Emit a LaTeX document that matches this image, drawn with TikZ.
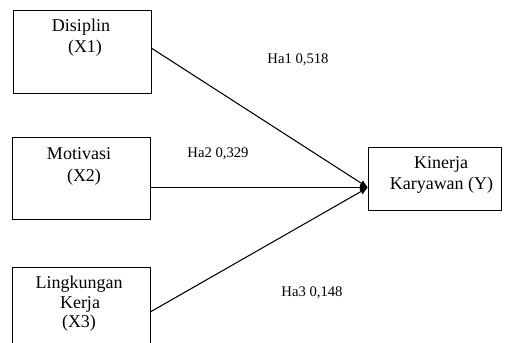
\documentclass[tikz,border=0pt]{standalone}
\usepackage{fontspec}
\setmainfont{Liberation Serif}
\usetikzlibrary{arrows.meta,calc}
\begin{document}
\begin{tikzpicture}[x=0.75pt,y=-0.75pt,
  box/.style={draw,line width=0.8pt,rectangle,inner sep=0pt,anchor=north west},
  boxtxt/.style={anchor=base,inner sep=0pt,font=\fontsize{13.5}{16}\selectfont},
  lbl/.style={anchor=base,inner sep=0pt,font=\fontsize{11}{13}\selectfont},
  arr/.style={line width=0.8pt,-{Latex[length=6pt,width=5pt]}}]
\clip (0,0) rectangle (508,343);
\fill[white] (0,0) rectangle (508,343);
% boxes
\node[box,minimum width=138*0.75pt,minimum height=83*0.75pt] (b1) at (13,10) {};
\node[box,minimum width=138*0.75pt,minimum height=82*0.75pt] (b2) at (12,137) {};
\node[box,minimum width=138*0.75pt,minimum height=88*0.75pt] (b3) at (12,267) {};
\node[box,minimum width=133*0.75pt,minimum height=63*0.75pt] (y) at (368,147) {};
% box texts
\node[boxtxt] (t1a) at (81,31) {Disiplin};
\node[boxtxt] (t1b) at (85,52) {(X1)};
\node[boxtxt] (t2a) at (79,159) {Motivasi};
\node[boxtxt] (t2b) at (84,181) {(X2)};
\node[boxtxt] (t3a) at (79,288) {Lingkungan};
\node[boxtxt] (t3b) at (80,308) {Kerja};
\node[boxtxt] (t3c) at (79,327) {(X3)};
\node[boxtxt] (ty1) at (441,168) {Kinerja};
\node[boxtxt] (ty2) at (441.5,189) {Karyawan (Y)};
% labels
\node[lbl] (l1) at (298,63) {Ha1 0,518};
\node[lbl] (l2) at (218,157) {Ha2 0,329};
\node[lbl] (l3) at (312,296) {Ha3 0,148};
% connectors
\coordinate (tip) at ($(y.west)+(0,8.5)$);
\draw[arr] ($(b1.east)+(0,-3.5)$) -- (tip);
\draw[arr] (b2.east |- tip) -- (tip);
\draw[arr] (b3.east) -- (tip);
\end{tikzpicture}
\end{document}
